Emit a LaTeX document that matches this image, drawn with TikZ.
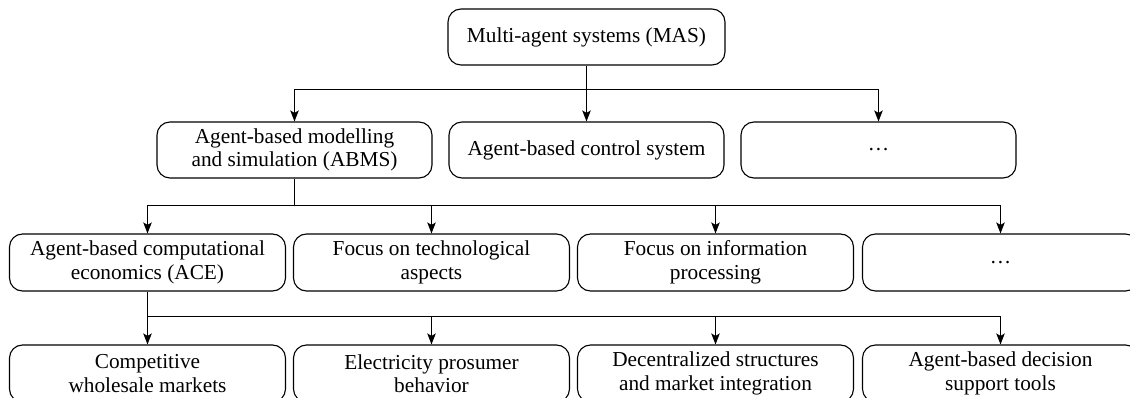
\documentclass[tikz,border=0pt]{standalone}
\usepackage{fontspec}
\setmainfont{Liberation Serif}
\usetikzlibrary{arrows.meta}
\begin{document}
\begin{tikzpicture}[x=1pt,y=-1pt,
  box/.style={draw, line width=1.1pt, rounded corners=13pt, minimum width=276pt,
    minimum height=56pt, inner sep=0pt, align=center,
    font=\fontsize{21.3pt}{23.5pt}\selectfont},
  link/.style={line width=1.1pt},
  feed/.style={line width=1.1pt, -{Stealth[length=11pt,width=8.5pt,inset=2.5pt]}}]
\useasboundingbox (0,0) rectangle (1130,398);
\clip (0,0) rectangle (1130,398);

% Level 0
\node[box, minimum width=277pt] (mas) at (586.5,37) {Multi-agent systems (MAS)};

% Level 1
\node[box, minimum width=275pt] (abms) at (294.5,150) {Agent-based modelling\\and simulation (ABMS)};
\node[box, minimum width=275pt] (ctrl) at (586.5,150) {Agent-based control system};
\node[box, minimum width=275pt] (dots1) at (878.5,150) {…};

% Level 2
\node[box, minimum height=57pt] (ace) at (147.5,262.5) {Agent-based computational\\economics (ACE)};
\node[box, minimum height=57pt] (tech) at (431.5,262.5) {Focus on technological\\aspects};
\node[box, minimum height=57pt] (info) at (715.5,262.5) {Focus on information\\processing};
\node[box, minimum height=57pt] (dots2) at (1000.5,262.5) {…};

% Level 3 (runs past the lower edge)
\node[box, minimum height=57pt] (mkt) at (147.5,373.5) {Competitive\\wholesale markets};
\node[box, minimum height=57pt] (pros) at (431.5,373.5) {Electricity prosumer\\behavior};
\node[box, minimum height=57pt] (dec) at (715.5,373.5) {Decentralized structures\\and market integration};
\node[box, minimum height=57pt] (dss) at (1000.5,373.5) {Agent-based decision\\support tools};

% Branch points on the three bus lines
\coordinate (b0) at (mas.south |- 0,89.5);
\coordinate (b1) at (abms.south |- 0,205.5);
\coordinate (b2) at (ace.south |- 0,316.5);

% MAS -> level 1
\draw[link] (mas.south) -- (b0);
\draw[feed] (b0) -| (abms.north);
\draw[feed] (b0) -| (dots1.north);
\draw[feed] (b0) -- (ctrl.north);

% ABMS -> level 2
\draw[link] (abms.south) -- (b1);
\draw[feed] (b1) -| (ace.north);
\draw[feed] (b1) -| (dots2.north);
\draw[feed] (tech.north |- b1) -- (tech.north);
\draw[feed] (info.north |- b1) -- (info.north);

% ACE -> level 3
\draw[link] (ace.south) -- (b2);
\draw[feed] (b2) -- (mkt.north);
\draw[feed] (b2) -| (dss.north);
\draw[feed] (pros.north |- b2) -- (pros.north);
\draw[feed] (dec.north |- b2) -- (dec.north);
\end{tikzpicture}
\end{document}
